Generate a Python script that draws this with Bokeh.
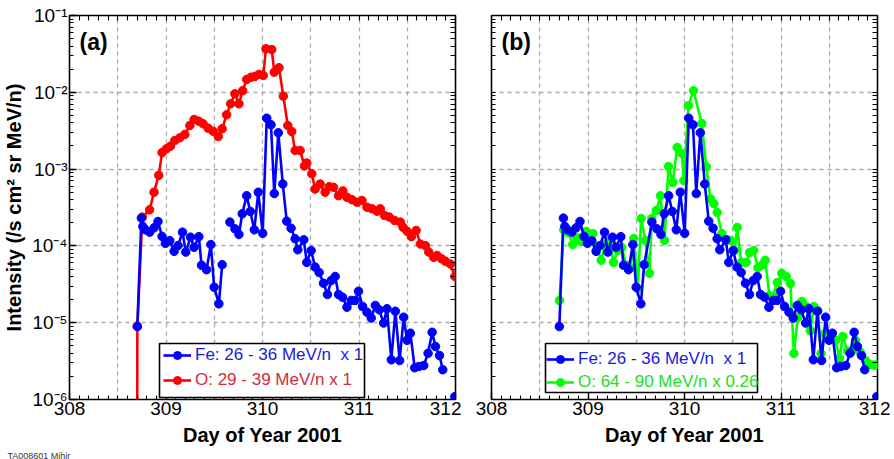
import numpy as np
from bokeh.plotting import figure
from bokeh.models import (ColumnDataSource, Range1d, FixedTicker, LinearAxis, LogAxis,
                          CustomJSTickFormatter, Legend, LegendItem, Label, BoxAnnotation, Title)
from bokeh.layouts import row
from bokeh.embed import file_html
from bokeh.resources import INLINE

NAN = float("nan")

# ---------------- data ----------------
# Fe 26-36 MeV/n  (x1)
fe_day = [308.703, 308.745, 308.760, 308.786, 308.831, 308.876, 308.917, 308.959, 308.994, 309.039,
          309.084, 309.125, 309.171, 309.205, 309.254, 309.291, 309.340, 309.368, 309.420, 309.465,
          309.499, 309.548, 309.582, 309.620, 309.662, 309.714, 309.756, 309.790, 309.836, 309.873,
          309.915, 309.956, 310.002, 310.044, 310.088, 310.122, 310.164, 310.210, 310.251, 310.296,
          310.338, 310.366, 310.428, 310.459, 310.504, 310.545, 310.587, 310.632, 310.673, 310.712,
          310.753, 310.788, 310.829, 310.875, 310.919, 310.961, 310.995, 311.037, 311.083, 311.127,
          311.169, 311.210, 311.255, 311.290, 311.335, 311.377, 311.421, 311.463, 311.498, 311.532,
          311.577, 311.619, 311.671, 311.716, 311.758, 311.792, 311.834, 311.868, 311.930, 311.993]
fe_int = [8.9e-6, 2.30e-4, 1.79e-4, 1.62e-4, 1.51e-4, 1.72e-4, 2.08e-4, 1.33e-4, 1.08e-4, 1.17e-4,
          8.5e-5, 1.01e-4, 1.51e-4, 8.3e-5, 1.30e-4, 9.6e-5, 1.32e-4, 5.6e-5, 4.9e-5, 1.04e-4,
          2.9e-5, 1.76e-5, 5.7e-5, NAN, 2.04e-4, 1.67e-4, 1.41e-4, 2.62e-4, 4.5e-4, 2.81e-4,
          1.62e-4, 5.0e-4, 1.46e-4, 4.6e-3, 3.78e-3, 4.8e-4, 2.97e-3, 6.4e-4, 2.10e-4, 1.70e-4,
          1.24e-4, 8.9e-5, 1.20e-4, 6.1e-5, 8.7e-5, 5.3e-5, 4.5e-5, 3.27e-5, 2.33e-5, 3.54e-5,
          4.0e-5, 2.33e-5, 2.15e-5, 1.59e-5, 1.95e-5, 1.95e-5, 2.57e-5, 1.63e-5, 1.37e-5, 1.15e-5,
          1.68e-5, 1.47e-5, 9.9e-6, 1.52e-5, 3.29e-6, 1.41e-5, 3.22e-6, 1.18e-5, 5.9e-6, 7.3e-6,
          2.59e-6, 2.69e-6, 2.77e-6, 4.0e-6, 7.5e-6, 4.9e-6, 3.74e-6, 2.44e-6, NAN, 1.09e-6]

# O 29-39 MeV/n (x1)
o_low_day = [308.700, 308.703, 308.755, 308.830, 308.876, 308.925, 308.959, 309.005, 309.046, 309.091,
             309.143, 309.195, 309.247, 309.291, 309.340, 309.385, 309.437, 309.489, 309.541, 309.582,
             309.628, 309.670, 309.714, 309.756, 309.794, 309.836, 309.881, 309.922, 309.964, 310.008,
             310.036, 310.096, 310.122, 310.171, 310.216, 310.262, 310.303, 310.338, 310.390, 310.434,
             310.459, 310.511, 310.545, 310.597, 310.649, 310.691, 310.736, 310.787, 310.833, 310.875,
             310.927, 310.979, 311.031, 311.083, 311.135, 311.187, 311.221, 311.265, 311.314, 311.369,
             311.429, 311.456, 311.498, 311.543, 311.592, 311.636, 311.688, 311.723, 311.774, 311.810,
             311.855, 311.896, 311.948, 311.993]
o_low_int = [1e-8, 9.0e-6, 2.37e-4, 2.95e-4, 5.0e-4, 8.3e-4, 1.64e-3, 1.84e-3, 1.99e-3, 2.35e-3,
             2.56e-3, 2.83e-3, 3.70e-3, 4.43e-3, 4.20e-3, 3.89e-3, 3.41e-3, 3.11e-3, 2.65e-3, 3.35e-3,
             5.09e-3, 7.08e-3, 9.55e-3, 7.08e-3, 1.05e-2, 1.47e-2, 1.57e-2, 1.61e-2, 1.71e-2, 1.66e-2,
             3.68e-2, 3.60e-2, 1.83e-2, 2.09e-2, 8.9e-3, 3.70e-3, 3.09e-3, 1.75e-3, 1.75e-3, 1.10e-3,
             1.20e-3, 8.7e-4, 5.5e-4, 6.4e-4, 5.0e-4, 5.9e-4, 5.8e-4, 4.5e-4, 5.2e-4, 4.3e-4,
             4.0e-4, 3.7e-4, 3.9e-4, 3.19e-4, 3.04e-4, 2.83e-4, 3.04e-4, 2.49e-4, 2.37e-4, 2.14e-4,
             2.04e-4, 1.75e-4, 1.55e-4, 1.32e-4, 1.59e-4, 1.06e-4, 1.01e-4, 8.3e-5, 7.1e-5, 7.5e-5,
             6.8e-5, 6.3e-5, 5.8e-5, 4.0e-5]

# O 64-90 MeV/n (x0.26, already scaled)
o_high_day = [308.705, 308.749, 308.798, 308.842, 308.884, 308.930, 308.981, 309.050, 309.095, 309.137,
              309.178, 309.223, 309.264, 309.309, 309.350, 309.396, 309.440, 309.475, 309.516, 309.551,
              309.596, 309.637, 309.661, 309.707, 309.751, 309.793, 309.834, 309.879, 309.924, 309.972,
              309.993, 310.041, 310.093, 310.179, 310.225, 310.269, 310.304, 310.339, 310.387, 310.443,
              310.477, 310.518, 310.546, 310.588, 310.639, 310.674, 310.718, 310.760, 310.801, 310.836,
              310.881, 310.915, 310.961, 311.008, 311.054, 311.098, 311.133, 311.174, 311.216, 311.261,
              311.303, 311.340, 311.381, 311.415, 311.451, 311.492, 311.526, 311.565, 311.606, 311.640,
              311.689, 311.734, 311.772, 311.824, 311.876, 311.927, 311.969, 311.995]
o_high_int = [1.95e-5, 1.62e-4, 1.49e-4, 1.04e-4, 1.29e-4, 1.14e-4, 1.54e-4, 1.45e-4, 9.5e-5, 6.5e-5,
              1.04e-4, 1.18e-4, 6.1e-5, 8.7e-5, 9.5e-5, 5.6e-5, 5.2e-5, 1.25e-4, 2.79e-5, 2.28e-4,
              1.18e-4, 4.4e-5, 2.28e-4, 2.89e-4, 4.5e-4, 1.18e-4, 1.08e-3, 6.7e-4, 1.91e-3, 1.60e-3,
              7.1e-4, 6.7e-3, 1.05e-2, 3.92e-3, 1.08e-3, 4.1e-4, 3.56e-4, 2.72e-4, 1.45e-4, 1.21e-4,
              1.18e-4, 8.7e-5, 1.74e-4, 6.1e-5, 6.1e-5, 8.2e-5, 8.7e-5, 5.2e-5, 5.6e-5, 6.5e-5,
              2.26e-5, 2.19e-5, 3.34e-5, 4.4e-5, 4.0e-5, 3.24e-5, 3.97e-6, 1.17e-5, 1.89e-5, 1.63e-5,
              7.9e-6, 1.63e-5, 1.44e-5, 3.97e-6, 7.2e-6, 6.4e-6, 7.2e-6, 5.9e-6, 3.42e-6, 6.6e-6,
              4.3e-6, 4.3e-6, 5.9e-6, 4.1e-6, 3.22e-6, 2.86e-6, 2.79e-6, 2.86e-6]

x_label_days = [308, 309, 310, 311, 312]
x_grid_days = [308.5, 309, 309.5, 310, 310.5, 311, 311.5]
y_decades = [1e-6, 1e-5, 1e-4, 1e-3, 1e-2, 1e-1]

label_fe = "Fe: 26 - 36 MeV/n\u00a0 x 1"
label_o_low = "O: 29 - 39 MeV/n x 1"
label_o_high = "O: 64 - 90 MeV/n x 0.26"
stamp_text = "TA008601 Mihir"

# ---------------- styling ----------------
FONT = "Liberation Sans"
BLUE = "#0000ff"
RED = "#ff0000"
GREEN = "#00ff00"

x_minor = [round(308 + 0.1 * i, 2) for i in range(41)]
y_minor = [m * d for d in y_decades[:-1] for m in range(1, 10)] + [1e-1]

y_fmt = CustomJSTickFormatter(code="""
const e = Math.round(Math.log10(tick));
const m = {"-":"\u207b","0":"\u2070","1":"\u00b9","2":"\u00b2","3":"\u00b3","4":"\u2074",
           "5":"\u2075","6":"\u2076","7":"\u2077","8":"\u2078","9":"\u2079"};
return "10" + String(e).split("").map(c => m[c]).join("");
""")


def style_axis(ax, labelled):
    ax.axis_line_color = None
    ax.major_tick_in = 7
    ax.major_tick_out = 0
    ax.minor_tick_in = 4
    ax.minor_tick_out = 0
    ax.major_tick_line_color = "black"
    ax.major_tick_line_width = 1.3
    ax.minor_tick_line_color = "black"
    ax.minor_tick_line_width = 1.1
    ax.major_label_text_font = FONT
    ax.major_label_text_color = "black"
    ax.major_label_text_font_size = "19px"
    ax.major_label_standoff = 2 if labelled else 0
    ax.axis_label_text_font = FONT
    ax.axis_label_text_font_style = "bold"
    ax.axis_label_text_font_size = "20px"
    ax.axis_label_text_color = "black"
    ax.axis_label_standoff = 6


def make_panel(left_border, right_border, show_ylabels):
    p = figure(frame_width=386, frame_height=384,
               x_range=Range1d(308, 312), y_range=Range1d(1e-6, 1e-1),
               y_axis_type="log", output_backend="svg", toolbar_location=None,
               min_border_left=left_border, min_border_right=right_border,
               min_border_top=15, min_border_bottom=50)
    p.background_fill_color = "white"
    p.border_fill_color = "white"
    p.outline_line_color = "black"
    p.outline_line_width = 1.6
    p.outline_line_alpha = 1.0

    p.xaxis.ticker = FixedTicker(ticks=x_label_days, minor_ticks=x_minor)
    style_axis(p.xaxis[0], True)
    p.xaxis.axis_label = "Day of Year 2001"

    if show_ylabels:
        p.yaxis.ticker = FixedTicker(ticks=y_decades, minor_ticks=y_minor)
        p.yaxis.formatter = y_fmt
        p.yaxis.axis_label = "Intensity (/s cm\u00b2 sr MeV/n)"
        style_axis(p.yaxis[0], True)
        p.yaxis.axis_label_standoff = 4
    else:
        p.yaxis.ticker = FixedTicker(ticks=[], minor_ticks=y_minor)
        style_axis(p.yaxis[0], False)

    top = LinearAxis(ticker=FixedTicker(ticks=[], minor_ticks=x_minor))
    style_axis(top, False)
    top.minor_tick_in = 5
    p.add_layout(top, "above")
    right = LogAxis(ticker=FixedTicker(ticks=[], minor_ticks=y_minor))
    style_axis(right, False)
    right.minor_tick_in = 5
    p.add_layout(right, "right")

    p.xgrid.ticker = FixedTicker(ticks=x_grid_days)
    p.ygrid.ticker = FixedTicker(ticks=y_decades)
    for g in (p.xgrid, p.ygrid):
        g.grid_line_color = "#a8a8a8"
        g.grid_line_dash = "4 4"
        g.grid_line_width = 1.3
    return p


def series(p, days, vals, color):
    src = ColumnDataSource(dict(x=days, y=vals))
    l = p.line("x", "y", source=src, line_color=color, line_width=2.6)
    s = p.scatter("x", "y", source=src, marker="circle", size=8.5,
                  fill_color=color, line_color=color)
    return [l, s]


def legend_block(p, box, x0, rows):
    b = BoxAnnotation(left=box[0], right=box[1], bottom=box[2], top=box[3],
                      left_units="screen", right_units="screen",
                      bottom_units="screen", top_units="screen",
                      fill_color="white", fill_alpha=1.0,
                      line_color="black", line_width=1.6, line_alpha=1.0)
    p.add_layout(b)
    for (label, rends, color, ybot) in rows:
        leg = Legend(items=[LegendItem(label=label, renderers=rends)],
                     location=(x0, ybot), border_line_color=None,
                     background_fill_alpha=0.0, padding=2, margin=0, spacing=0,
                     glyph_width=28, glyph_height=20, label_height=20,
                     label_standoff=4, label_text_font=FONT,
                     label_text_font_size="17px", label_text_color=color)
        p.add_layout(leg)


# ---------------- panel (a) ----------------
pa = make_panel(57, 6, True)
r_o_a = series(pa, o_low_day, o_low_int, RED)
r_fe_a = series(pa, fe_day, fe_int, BLUE)
legend_block(pa, (90, 295, 2, 56), 94,
             [(label_fe, r_fe_a, "#1a1add", 34), (label_o_low, r_o_a, "#d42a3a", 9)])
pa.add_layout(Label(x=10, y=371, x_units="screen", y_units="screen", text="(a)",
                    text_font=FONT, text_font_style="bold", text_font_size="23px",
                    text_baseline="top", text_color="black"))
pa.add_layout(Title(text=stamp_text, align="left", offset=-62, standoff=0,
                    text_font=FONT, text_font_style="normal", text_font_size="9px",
                    text_color="#333333"), "below")

# ---------------- panel (b) ----------------
pb = make_panel(30, 13, False)
fe_day_b = [d for d, v in zip(fe_day, fe_int) if not (d < 309.7 and v != v)]
fe_int_b = [v for d, v in zip(fe_day, fe_int) if not (d < 309.7 and v != v)]
r_o_b = series(pb, o_high_day, o_high_int, GREEN)
r_fe_b = series(pb, fe_day_b, fe_int_b, BLUE)
legend_block(pb, (54, 266, 7, 56), 55,
             [(label_fe, r_fe_b, "#1a1add", 30), (label_o_high, r_o_b, "#22dd22", 7)])
pb.add_layout(Label(x=10, y=371, x_units="screen", y_units="screen", text="(b)",
                    text_font=FONT, text_font_style="bold", text_font_size="23px",
                    text_baseline="top", text_color="black"))

layout = row(pa, pb)
open("out.html", "w").write(file_html(layout, INLINE))
